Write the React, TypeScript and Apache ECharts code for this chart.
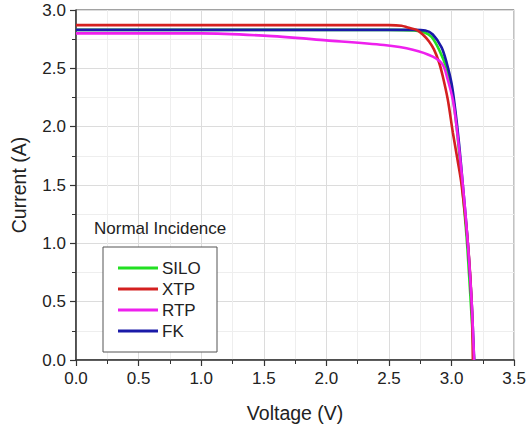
import React, { useEffect, useRef } from "react";
import * as echarts from "echarts";

const xTicks = [0, 0.5, 1.0, 1.5, 2.0, 2.5, 3.0, 3.5];
const yTicks = [0, 0.5, 1.0, 1.5, 2.0, 2.5, 3.0];

const siloV = [0, 0.5, 1.0, 1.5, 2.0, 2.5, 2.7, 2.78, 2.84, 2.9, 2.96, 3.0, 3.04, 3.08, 3.12, 3.15, 3.18];
const siloI = [2.83, 2.83, 2.83, 2.83, 2.83, 2.83, 2.825, 2.81, 2.77, 2.66, 2.5, 2.33, 2.0, 1.55, 1.05, 0.55, 0.0];

const fkV = [0, 0.5, 1.0, 1.5, 2.0, 2.5, 2.7, 2.79, 2.85, 2.92, 2.96, 3.0, 3.03, 3.06, 3.09, 3.13, 3.16, 3.18];
const fkI = [2.83, 2.83, 2.83, 2.83, 2.83, 2.83, 2.83, 2.825, 2.79, 2.68, 2.55, 2.37, 2.14, 1.85, 1.5, 1.0, 0.5, 0.0];

const xtpV = [0, 0.5, 1.0, 1.5, 2.0, 2.5, 2.6, 2.65, 2.72, 2.77, 2.82, 2.86, 2.9, 2.93, 2.97, 3.01, 3.05, 3.08, 3.13, 3.16, 3.17];
const xtpI = [2.87, 2.87, 2.87, 2.87, 2.87, 2.87, 2.865, 2.85, 2.83, 2.79, 2.73, 2.66, 2.55, 2.43, 2.23, 1.95, 1.7, 1.5, 1.0, 0.5, 0.0];

const rtpV = [0, 0.5, 1.0, 1.5, 2.0, 2.46, 2.69, 2.85, 2.93, 2.97, 3.01, 3.04, 3.09, 3.13, 3.16, 3.18];
const rtpI = [2.8, 2.8, 2.8, 2.78, 2.74, 2.7, 2.66, 2.6, 2.53, 2.4, 2.23, 2.0, 1.5, 1.0, 0.5, 0.0];

const legendOrder = ["SILO", "XTP", "RTP", "FK"];

const zip = (v: number[], c: number[]) => v.map((x, i) => [x, c[i]]);

const FONT = "Arial, 'Liberation Sans', sans-serif";

export default function App() {
  const ref = useRef<HTMLDivElement>(null);
  useEffect(() => {
    if (!ref.current) return;
    const chart = echarts.init(ref.current, undefined, { renderer: "svg" });
    const line = (name: string, color: string, data: number[][]) => ({
      name,
      type: "line",
      data,
      symbol: "none",
      smooth: 0.3,
      lineStyle: { color, width: 2.6 },
      itemStyle: { color },
    });
    chart.setOption({
      animation: false,
      textStyle: { fontFamily: FONT },
      title: {
        text: "Normal Incidence",
        left: 94,
        top: 220,
        padding: 0,
        textStyle: { fontSize: 17, fontWeight: "normal", color: "#222", fontFamily: FONT },
      },
      grid: {
        left: 76,
        right: 14,
        top: 10,
        bottom: 69,
        show: true,
        borderColor: "#444",
        borderWidth: 1,
        backgroundColor: "transparent",
      },
      graphic: [
        {
          type: "rect",
          shape: { x: 103, y: 247, width: 114, height: 105 },
          style: { fill: "#fff", stroke: "#555", lineWidth: 1 },
          z: 5,
        },
      ],
      legend: {
        data: legendOrder,
        orient: "vertical",
        left: 118,
        top: 259.5,
        padding: 0,
        itemWidth: 40,
        itemHeight: 17,
        itemGap: 4,
        icon: "path://M0,0 L40,0 L40,3 L0,3 Z",
        textStyle: { fontSize: 17, lineHeight: 17, color: "#222", fontFamily: FONT, padding: [0, 0, 0, -1] },
        z: 10,
      },
      xAxis: {
        type: "value",
        min: xTicks[0],
        max: xTicks[xTicks.length - 1],
        interval: 0.5,
        name: "Voltage (V)",
        nameLocation: "middle",
        nameGap: 43,
        nameTextStyle: { fontSize: 19.5, color: "#222", fontFamily: FONT },
        axisLine: { show: true, onZero: false, lineStyle: { color: "#333", width: 1.5 } },
        axisTick: { show: true, length: 6, lineStyle: { color: "#333", width: 1.2 } },
        minorTick: { show: true, splitNumber: 2, length: 4, lineStyle: { color: "#333" } },
        splitLine: { show: true, lineStyle: { color: "#dcdcdc", width: 1 } },
        minorSplitLine: { show: true, lineStyle: { color: "#eeeeee", width: 1 } },
        axisLabel: {
          fontSize: 17,
          color: "#222",
          margin: 10,
          formatter: (v: number) => v.toFixed(1),
        },
      },
      yAxis: {
        type: "value",
        min: yTicks[0],
        max: yTicks[yTicks.length - 1],
        interval: 0.5,
        name: "Current (A)",
        nameLocation: "middle",
        nameGap: 47,
        nameTextStyle: { fontSize: 19.5, color: "#222", fontFamily: FONT },
        axisLine: { show: true, onZero: false, lineStyle: { color: "#333", width: 1.5 } },
        axisTick: { show: true, length: 6, lineStyle: { color: "#333", width: 1.2 } },
        minorTick: { show: true, splitNumber: 2, length: 4, lineStyle: { color: "#333" } },
        splitLine: { show: true, lineStyle: { color: "#dcdcdc", width: 1 } },
        minorSplitLine: { show: true, lineStyle: { color: "#eeeeee", width: 1 } },
        axisLabel: {
          fontSize: 17,
          color: "#222",
          margin: 10,
          formatter: (v: number) => v.toFixed(1),
        },
      },
      series: [
        line("SILO", "#22e022", zip(siloV, siloI)),
        line("FK", "#1a1aa8", zip(fkV, fkI)),
        line("XTP", "#d42020", zip(xtpV, xtpI)),
        line("RTP", "#ee20ee", zip(rtpV, rtpI)),
      ],
    });
    return () => chart.dispose();
  }, []);
  return <div ref={ref} style={{ width: 529, height: 429, position: "absolute", left: 0, top: 0 }} />;
}
